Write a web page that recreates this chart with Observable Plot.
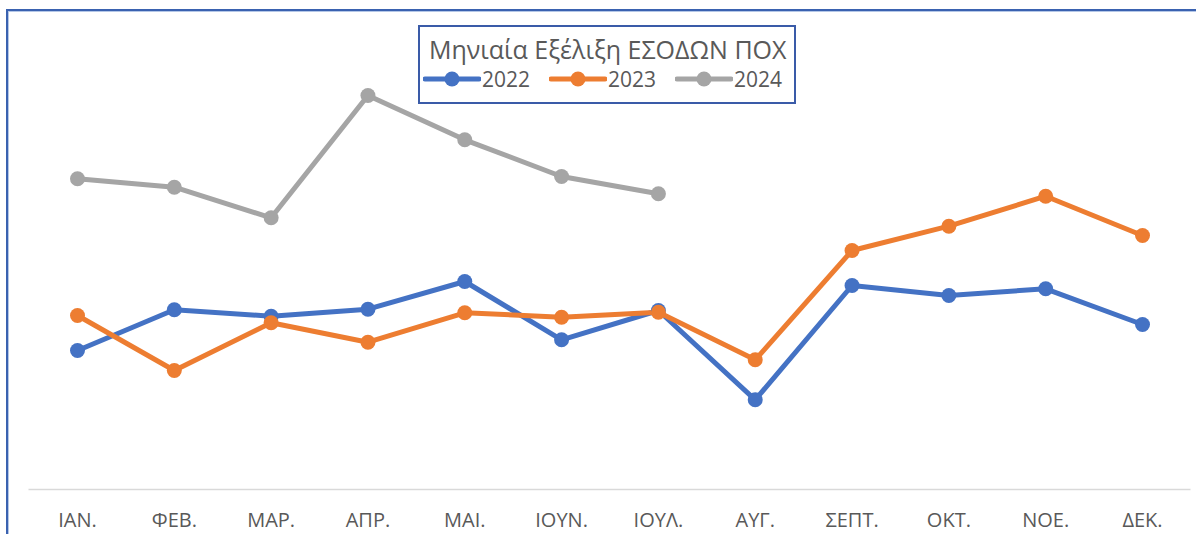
<!DOCTYPE html>
<html>
<head>
<meta charset="utf-8">
<script src="https://cdn.jsdelivr.net/npm/d3@7"></script>
<script src="https://cdn.jsdelivr.net/npm/@observablehq/plot@0.6"></script>
<style>
  html, body { margin: 0; padding: 0; background: #fff; }
  #wrap { position: relative; width: 1196px; height: 534px; overflow: hidden; font-family: "Open Sans", sans-serif; }
  #chart svg g[aria-label="x-axis tick label"] text { font-size: 20px; fill: #595959; }
  #frame { position: absolute; left: 6px; top: 9px; width: 1300px; height: 700px; border-top: 2px solid #3a62b0; border-left: 2px solid #3a62b0; box-shadow: inset 1px 1px 0 #b4c7e7; pointer-events: none; }
  #legend { position: absolute; left: 418px; top: 25px; width: 374px; height: 75px; border: 2px solid #3a5ba8; background: #fff; box-sizing: content-box; }
  #legend .title { position: absolute; left: 9px; top: 5px; font-size: 25px; color: #595959; white-space: nowrap; letter-spacing: 0px; }
  #legend .items { position: absolute; left: 3px; top: 38px; display: flex; }
  #legend .item { display: flex; align-items: center; font-size: 21px; color: #595959; margin-right: 19px; }
  #legend .item svg { margin-right: 1px; }
</style>
</head>
<body>
<div id="wrap">
  <div id="chart"></div>
  <div id="frame"></div>
  <div id="legend">
    <div class="title">Μηνιαία Εξέλιξη ΕΣΟΔΩΝ ΠΟΧ</div>
    <div class="items" id="items"></div>
  </div>
</div>
<script>
const months = ["ΙΑΝ.", "ΦΕΒ.", "ΜΑΡ.", "ΑΠΡ.", "ΜΑΙ.", "ΙΟΥΝ.", "ΙΟΥΛ.", "ΑΥΓ.", "ΣΕΠΤ.", "ΟΚΤ.", "ΝΟΕ.", "ΔΕΚ."];
const years = ["2022", "2023", "2024"];
const colors = ["#4472C4", "#ED7D31", "#A5A5A5"];
const values2022 = [139, 179.7, 173.3, 180.3, 208, 149.7, 179, 89.7, 204, 194, 200.7, 165];
const values2023 = [174, 119, 166.7, 147.3, 176.7, 172.3, 177.3, 129.7, 239, 263.3, 293.3, 254];
const values2024 = [310.7, 302.3, 271.7, 394, 349.7, 313, 295.7];

const seriesValues = [values2022, values2023, values2024];
const data = [];
seriesValues.forEach((vals, i) => {
  vals.forEach((v, j) => data.push({month: months[j], year: years[i], value: v}));
});

const chart = Plot.plot({
  width: 1196,
  height: 534,
  marginLeft: 28.5,
  marginRight: 5.5,
  marginTop: 9,
  marginBottom: 45,
  style: {fontFamily: "Open Sans, sans-serif", fontSize: "20px", color: "#595959", background: "transparent"},
  x: {type: "point", domain: months, padding: 0, round: false, range: [77, 1142], label: null},
  y: {domain: [0, 480], axis: null},
  color: {domain: years, range: colors},
  marks: [
    Plot.ruleY([0], {stroke: "#d9d9d9", strokeWidth: 1.3}),
    Plot.axisX({tickSize: 0, tickPadding: 23, fontSize: 20, fill: "#595959", label: null}),
    Plot.line(data, {x: "month", y: "value", z: "year", stroke: "year", strokeWidth: 5, strokeLinejoin: "round", strokeLinecap: "round"}),
    Plot.dot(data, {x: "month", y: "value", fill: "year", r: 7.5, stroke: "none"})
  ]
});
document.getElementById("chart").appendChild(chart);

const items = document.getElementById("items");
years.forEach((y, i) => {
  const el = document.createElement("div");
  el.className = "item";
  el.innerHTML = `<svg width="58" height="20"><line x1="2" y1="10" x2="56" y2="10" stroke="${colors[i]}" stroke-width="5" stroke-linecap="round"/><circle cx="29" cy="10" r="7.5" fill="${colors[i]}"/></svg><span>${y}</span>`;
  items.appendChild(el);
});
</script>
</body>
</html>
